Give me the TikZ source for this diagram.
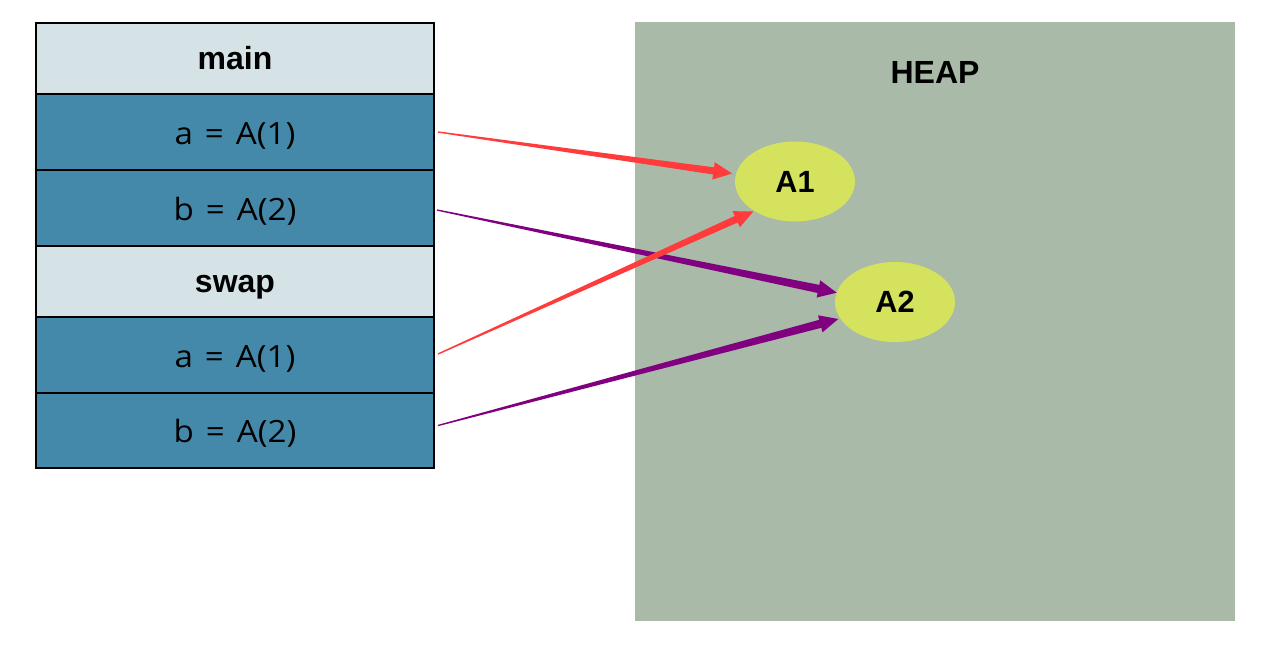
\documentclass[tikz,border=0pt]{standalone}
\usepackage{fontspec}
\setmainfont{Liberation Sans}
\newfontfamily\rowfont[FakeStretch=1.08,WordSpace=1.4]{Open Sans}
\usetikzlibrary{calc,shapes.geometric}
\definecolor{hdrcol}{RGB}{213,227,231}
\definecolor{rowcol}{RGB}{69,137,170}
\definecolor{heapcol}{RGB}{169,186,168}
\definecolor{objcol}{RGB}{212,226,94}
\definecolor{redarr}{RGB}{255,59,59}
\definecolor{purarr}{RGB}{128,0,128}
\newcommand{\taperarrow}[4]{%
  \path ($(#2)!14pt!(#1)$) coordinate (tb);
  \fill[#3] ($(#1)!0.5pt!90:(#2)$) -- ($(tb)!#4!90:(#2)$) -- ($(tb)!6.6pt!90:(#2)$) -- (#2)
    -- ($(tb)!6.6pt!-90:(#2)$) -- ($(tb)!#4!-90:(#2)$) -- ($(#1)!0.5pt!-90:(#2)$) -- cycle;
}
\begin{document}
\begin{tikzpicture}[x=0.75pt,y=-0.75pt,
  framebox/.style={draw=black,line width=1.5pt,minimum width=298.5pt,inner sep=0pt},
  hdr/.style={framebox,fill=hdrcol,minimum height=53.25pt,font=\fontsize{24}{28}\selectfont\bfseries,text height=16pt,text depth=0pt},
  row/.style={framebox,fill=rowcol,minimum height=57pt,font=\rowfont\fontsize{23}{27}\selectfont,text height=18pt,text depth=0pt},
  obj/.style={ellipse,fill=objcol,minimum width=90pt,minimum height=60pt,inner sep=0pt,font=\fontsize{23}{27}\selectfont\bfseries}]
\useasboundingbox (0,0) rectangle (1268,651);
\fill[white] (0,0) rectangle (1268,651);
% heap
\node[fill=heapcol,minimum width=450pt,minimum height=449.25pt,inner sep=0pt] (heap) at (935,321.5) {};
\node[font=\fontsize{24}{28}\selectfont\bfseries] (heaplbl) at (935,72) {HEAP};
% stack
\node[hdr] (mh) at (235,58.5) {main};
\node[row] (ma) at (235,132) {a = A(1)};
\node[row] (mb) at (235,208) {b = A(2)};
\node[hdr] (sh) at (235,281.5) {swap};
\node[row] (sa) at (235,355) {a = A(1)};
\node[row,minimum height=56.25pt] (sb) at (235,430.5) {b = A(2)};
% objects
\node[obj] (A1) at (795,181.5) {A1};
\node[obj] (A2) at (895,302) {A2};
% connectors
\coordinate (s1) at ($(ma.east)+(3,0)$);
\coordinate (t1) at ($(A1.center)+(-63,-8)$);
\coordinate (s2) at ($(mb.east)+(2,2)$);
\coordinate (t2) at ($(A2.center)+(-58.3,-9.3)$);
\coordinate (s3) at ($(sa.east)+(3,-1)$);
\coordinate (t3) at ($(A1.center)+(-41.7,30)$);
\coordinate (s4) at ($(sb.east)+(3,-5)$);
\coordinate (t4) at ($(A2.center)+(-56.7,17)$);
\taperarrow{s1}{t1}{redarr}{2.7pt}
\taperarrow{s2}{t2}{purarr}{3.1pt}
\taperarrow{s3}{t3}{redarr}{2.7pt}
\taperarrow{s4}{t4}{purarr}{3.1pt}
\end{tikzpicture}
\end{document}
